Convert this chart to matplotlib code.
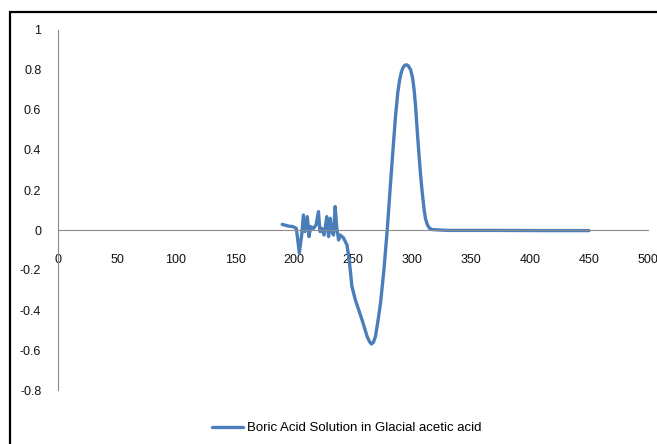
import matplotlib
matplotlib.use("Agg")
import matplotlib.pyplot as plt
from matplotlib.patches import Rectangle

# wavelength (nm) and signal
wavelength = [
    190, 195, 199, 202, 204.5, 206.5, 208, 209.3, 211.3, 212.7, 214.2, 216.5,
    218.7, 220.7, 222, 223.5, 225.5, 227.8, 229.3, 230.7, 232, 233.5, 234.9,
    236.3, 237.8, 239.2, 242, 244.9, 246.3, 247.7, 249, 252, 257.7, 262, 264,
    265.6, 267.3, 269, 271, 273.3, 276.2, 279, 281.8, 284, 286, 288, 289.5,
    291, 292.4, 294, 295.5, 297, 298.9, 300.5, 301.8, 303, 304.6, 306, 307.4,
    308.8, 310.3, 311.5, 313.1, 315, 317.4, 330, 370, 410, 450,
]
signal = [
    0.028, 0.02, 0.017, 0.008, -0.115, -0.025, 0.075, -0.008, 0.067, -0.033,
    0.017, 0.008, 0.025, 0.092, -0.008, 0.008, -0.025, 0.067, -0.033, 0.058,
    -0.008, -0.025, 0.117, 0.008, -0.05, -0.025, -0.04, -0.075, -0.13, -0.2,
    -0.28, -0.35, -0.45, -0.533, -0.558, -0.57, -0.562, -0.533, -0.46,
    -0.367, -0.2, 0.0, 0.233, 0.41, 0.567, 0.69, 0.75, 0.79, 0.812, 0.824,
    0.826, 0.82, 0.8, 0.76, 0.7, 0.62, 0.483, 0.37, 0.267, 0.18, 0.1, 0.055,
    0.025, 0.008, 0.002, -0.002, -0.002, -0.003, -0.003,
]
x_ticks = [0, 50, 100, 150, 200, 250, 300, 350, 400, 450, 500]
y_ticks = [-0.8, -0.6, -0.4, -0.2, 0, 0.2, 0.4, 0.6, 0.8, 1]
series_name = "Boric Acid Solution in Glacial acetic acid"

plt.rcParams["font.family"] = ["Liberation Sans Narrow", "Liberation Sans", "DejaVu Sans"]

fig = plt.figure(figsize=(6.57, 4.44), dpi=100)
ax = fig.add_axes([58 / 657, 1 - 390 / 444, 590 / 657, 360 / 444])

line, = ax.plot(wavelength, signal, color="#4A7EBB", linewidth=2.4,
                solid_joinstyle="round", solid_capstyle="round", label=series_name)

ax.set_xlim(0, 500)
ax.set_ylim(-0.8, 1)
ax.set_xticks(x_ticks)
ax.set_xticklabels([str(t) for t in x_ticks])
ax.set_yticks(y_ticks)
ax.set_yticklabels(["0" if t == 0 else f"{t:g}" for t in y_ticks])

for side in ("top", "right"):
    ax.spines[side].set_visible(False)
ax.spines["left"].set_color("#8c8c8c")
ax.spines["bottom"].set_color("#8c8c8c")
ax.spines["bottom"].set_position(("data", 0))
ax.tick_params(axis="x", length=0, pad=17, labelsize=9, labelcolor="#111111")
ax.tick_params(axis="y", length=0, pad=12, labelsize=9, labelcolor="#111111")

fig.legend(handles=[line], loc="center", bbox_to_anchor=(0.528, 0.036),
           frameon=False, fontsize=9.5, handlelength=2.3, handletextpad=0.3)

# outer frame as in the source screenshot
fig.patches.append(Rectangle((10 / 657, -0.1), 1.2, 1 - 12 / 444 + 0.1,
                             transform=fig.transFigure, fill=False,
                             edgecolor="black", linewidth=1.6))

fig.savefig("out.png", dpi=100)
